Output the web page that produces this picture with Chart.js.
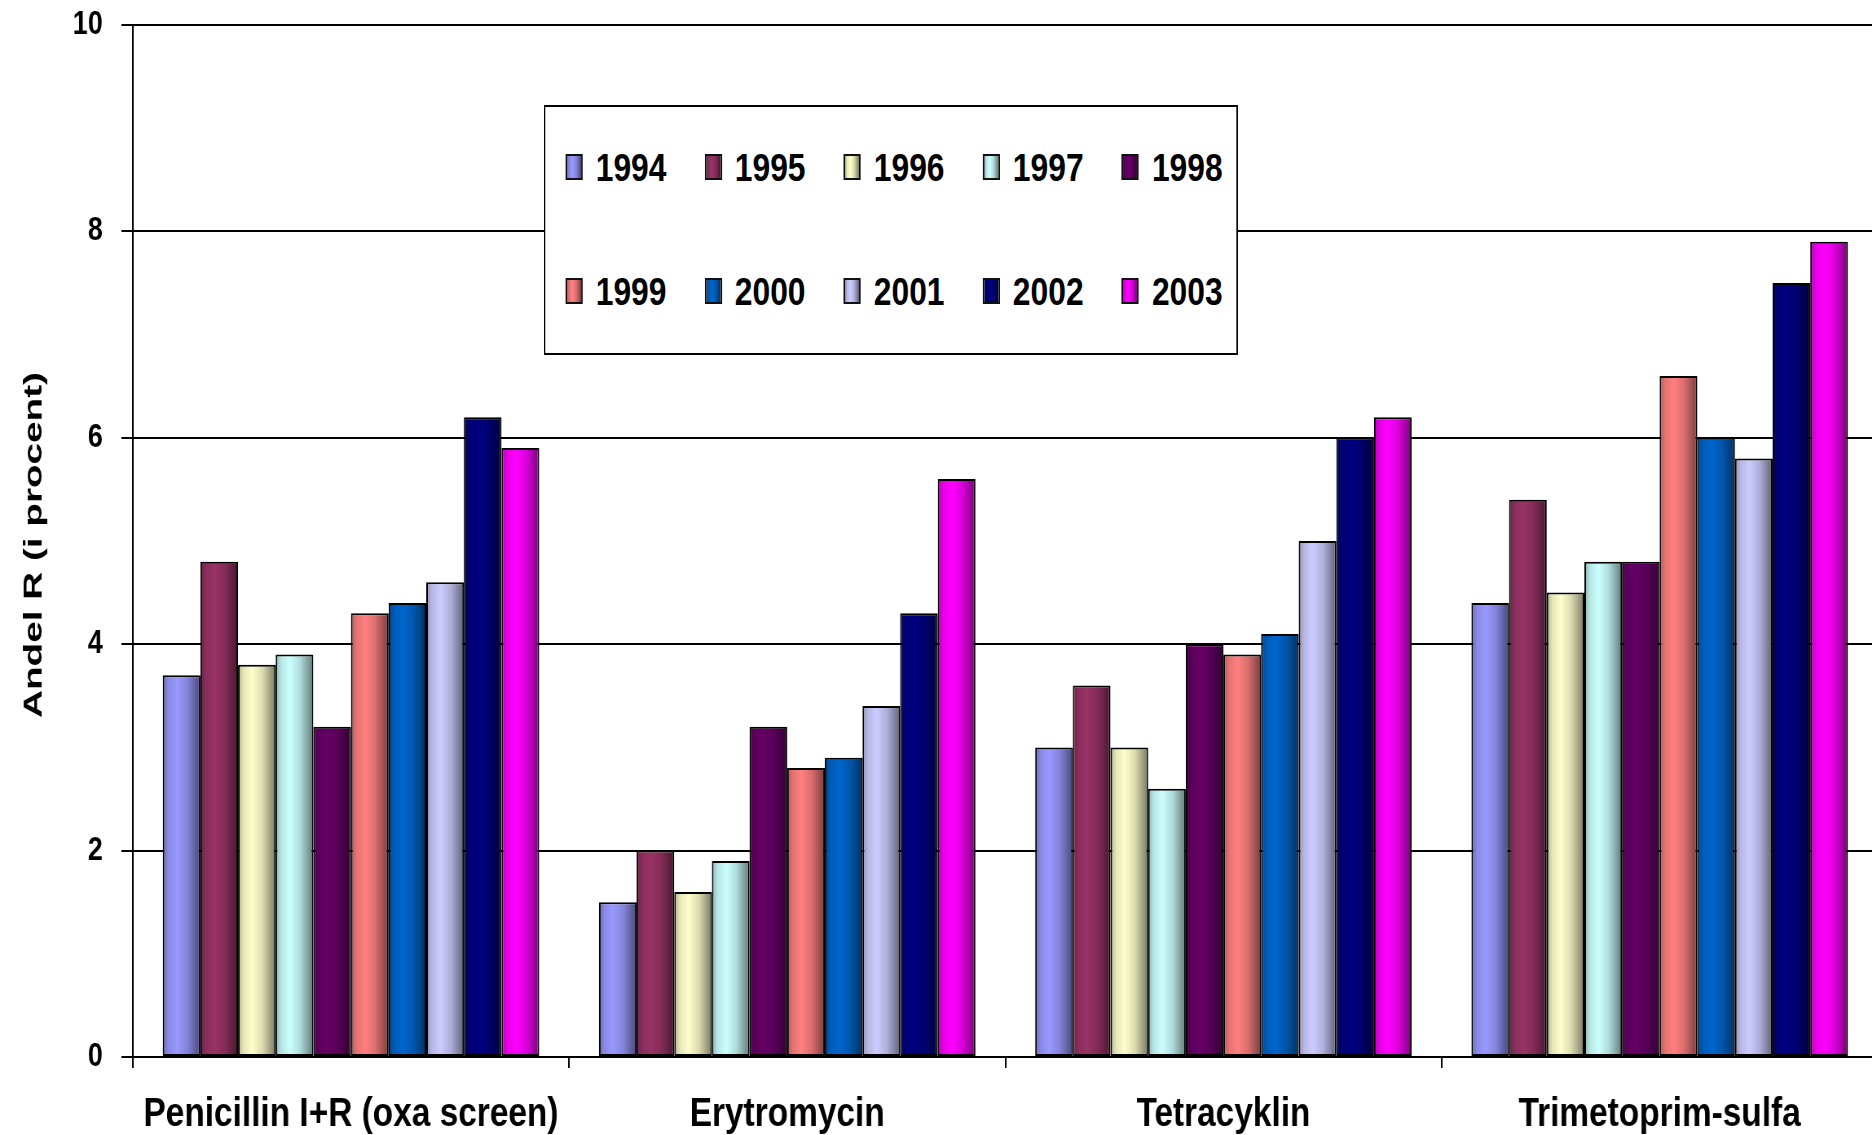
<!DOCTYPE html>
<html>
<head>
<meta charset="utf-8">
<script src="https://cdn.jsdelivr.net/npm/chart.js@4/dist/chart.umd.min.js"></script>
<style>
  html, body { margin: 0; padding: 0; background: #fff; overflow: hidden; }
  /* the original picture is squeezed sideways, so draw wide and squeeze */
  #wrap { position: relative; width: 2304px; height: 1135px; transform: scaleX(0.815); transform-origin: 0 0; }
  #legend {
    position: absolute; left: 667px; top: 105px; width: 852px; height: 250px;
    border: 2px solid #000; background: #fff; box-sizing: border-box;
    display: grid; grid-template-columns: repeat(5, 170.6px); grid-template-rows: 50px 50px;
    row-gap: 74px; padding: 35px 0 0 25px;
  }
  .item { display: flex; align-items: center; }
  .swatch { width: 21px; height: 26px; border: 2px solid #111; box-sizing: border-box; margin-right: 16px; }
  .label { font-family: "Liberation Sans", Arial, sans-serif; font-weight: bold; font-size: 39px; color: #000; line-height: 1; }
</style>
</head>
<body>
<div id="wrap">
  <canvas id="chart" width="2304" height="1135"></canvas>
  <div id="legend"></div>
</div>
<script>
// Resistance share per antibiotic, 1994-2003

const categories = ["Penicillin I+R (oxa screen)", "Erytromycin", "Tetracyklin", "Trimetoprim-sulfa"];
const years = ["1994", "1995", "1996", "1997", "1998", "1999", "2000", "2001", "2002", "2003"];
const yTicks = [0, 2, 4, 6, 8, 10];

const v1994 = [3.7, 1.5, 3.0, 4.4];
const v1995 = [4.8, 2.0, 3.6, 5.4];
const v1996 = [3.8, 1.6, 3.0, 4.5];
const v1997 = [3.9, 1.9, 2.6, 4.8];
const v1998 = [3.2, 3.2, 4.0, 4.8];
const v1999 = [4.3, 2.8, 3.9, 6.6];
const v2000 = [4.4, 2.9, 4.1, 6.0];
const v2001 = [4.6, 3.4, 5.0, 5.8];
const v2002 = [6.2, 4.3, 6.0, 7.5];
const v2003 = [5.9, 5.6, 6.2, 7.9];

const seriesValues = [v1994, v1995, v1996, v1997, v1998, v1999, v2000, v2001, v2002, v2003];
const seriesColors = ["#9999FF", "#993366", "#FFFFCC", "#CCFFFF", "#660066",
                      "#FF8080", "#0066CC", "#CCCCFF", "#000080", "#FF00FF"];

const boldFont = '"Liberation Sans", Arial, sans-serif';

// darken a hex colour by factor f
function shade(hex, f) {
  const n = parseInt(hex.slice(1), 16);
  const r = Math.round(((n >> 16) & 255) * f);
  const g = Math.round(((n >> 8) & 255) * f);
  const b = Math.round((n & 255) * f);
  return `rgb(${r}, ${g}, ${b})`;
}

const shadeStops = [[0, 0.7], [0.15, 0.9], [0.38, 1.0], [0.65, 0.86], [1, 0.48]];

// cylinder-like shading across each bar
const barShading = {
  id: "barShading",
  beforeDatasetsDraw(chart) {
    const ctx = chart.ctx;
    chart.data.datasets.forEach((ds, i) => {
      chart.getDatasetMeta(i).data.forEach((el) => {
        const x0 = el.x - el.width / 2;
        const grad = ctx.createLinearGradient(x0, 0, x0 + el.width, 0);
        shadeStops.forEach(([p, f]) => grad.addColorStop(p, shade(seriesColors[i], f)));
        el.options.backgroundColor = grad;
      });
    });
  }
};

// rotated, stretched y axis title like the original
const yTitle = {
  id: "yTitle",
  afterDraw(chart) {
    const ctx = chart.ctx;
    const text = "Andel R (i procent)";
    ctx.save();
    ctx.font = `bold 31px ${boldFont}`;
    ctx.fillStyle = "#000";
    ctx.textAlign = "center";
    ctx.textBaseline = "alphabetic";
    const w = ctx.measureText(text).width;
    ctx.translate(51, 545);
    ctx.rotate(-Math.PI / 2);
    ctx.scale(346 / w, 1);
    ctx.fillText(text, 0, 0);
    ctx.restore();
  }
};

const datasets = years.map((yr, i) => ({
  label: yr,
  data: seriesValues[i],
  backgroundColor: (c) => seriesColors[c.datasetIndex],
  borderColor: "#000",
  borderWidth: 2,
  borderSkipped: false,
  categoryPercentage: 0.863,
  barPercentage: 1.0
}));

const chart = new Chart(document.getElementById("chart"), {
  type: "bar",
  data: { labels: categories, datasets: datasets },
  options: {
    responsive: false,
    animation: false,
    devicePixelRatio: 1,
    layout: { padding: { top: 25, right: 0, bottom: 0, left: 0 } },
    plugins: { legend: { display: false }, tooltip: { enabled: false } },
    scales: {
      y: {
        min: 0,
        max: 10,
        afterBuildTicks: (s) => { s.ticks = yTicks.map((v) => ({ value: v })); },
        afterFit: (s) => { s.width = 163; s.paddingTop = 0; },
        ticks: {
          color: "#000",
          padding: 23,
          font: { family: boldFont, size: 33, weight: "bold" }
        },
        grid: { color: "#000", lineWidth: 2, tickLength: 14 },
        border: { color: "#000", width: 2 }
      },
      x: {
        afterFit: (s) => { s.height = 78; },
        ticks: {
          color: "#000",
          padding: 22,
          maxRotation: 0,
          minRotation: 0,
          autoSkip: false,
          font: { family: boldFont, size: 41, weight: "bold" }
        },
        grid: { drawOnChartArea: false, color: "#000", lineWidth: 2, tickLength: 11, offset: true },
        border: { color: "#000", width: 2 }
      }
    }
  },
  plugins: [barShading, yTitle]
});

// legend as two rows of five, built from the same arrays
const legendEl = document.getElementById("legend");
years.forEach((yr, i) => {
  const c = seriesColors[i];
  const stops = shadeStops.map(([p, f]) => `${shade(c, f)} ${p * 100}%`).join(", ");
  const item = document.createElement("div");
  item.className = "item";
  item.innerHTML = `<span class="swatch" style="background: linear-gradient(to right, ${stops})"></span><span class="label">${yr}</span>`;
  legendEl.appendChild(item);
});
</script>
</body>
</html>
